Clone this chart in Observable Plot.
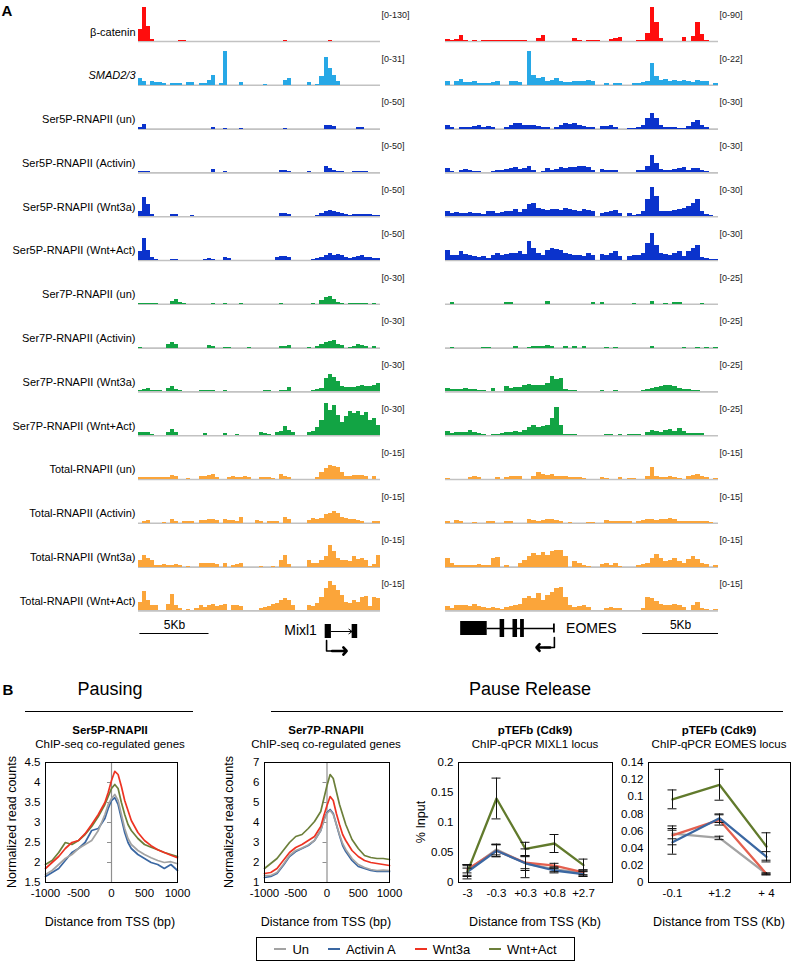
<!DOCTYPE html>
<html><head><meta charset="utf-8">
<script src="https://cdn.jsdelivr.net/npm/d3@7"></script>
<script src="https://cdn.jsdelivr.net/npm/@observablehq/plot@0.6"></script>
<style>
body{margin:0;background:#fff;font-family:"Liberation Sans",Arial,Helvetica,sans-serif;color:#000;}
#root{position:relative;width:800px;height:971px;overflow:hidden;background:#fff;}
.abs{position:absolute;}
.lbl{position:absolute;transform:translate(-50%,-50%);white-space:nowrap;line-height:1;}
svg{display:block;}
</style></head><body><div id="root"></div>
<script>
const FONT = '"Liberation Sans", Arial, Helvetica, sans-serif';

// ---------------- Panel A: genome browser tracks ----------------
const trackNames = ["β-catenin","SMAD2/3","Ser5P-RNAPII (un)","Ser5P-RNAPII (Activin)","Ser5P-RNAPII (Wnt3a)","Ser5P-RNAPII (Wnt+Act)","Ser7P-RNAPII (un)","Ser7P-RNAPII (Activin)","Ser7P-RNAPII (Wnt3a)","Ser7P-RNAPII (Wnt+Act)","Total-RNAPII (un)","Total-RNAPII (Activin)","Total-RNAPII (Wnt3a)","Total-RNAPII (Wnt+Act)"];
const trackColors = ["#ff0d0d","#27a8e6","#0b33cc","#0b33cc","#0b33cc","#0b33cc","#12a444","#12a444","#12a444","#12a444","#fba53a","#fba53a","#fba53a","#fba53a"];
const mixl1Ranges = ["[0-130]","[0-31]","[0-50]","[0-50]","[0-50]","[0-50]","[0-30]","[0-30]","[0-30]","[0-30]","[0-15]","[0-15]","[0-15]","[0-15]"];
const eomesRanges = ["[0-90]","[0-22]","[0-30]","[0-30]","[0-30]","[0-30]","[0-25]","[0-25]","[0-25]","[0-25]","[0-15]","[0-15]","[0-15]","[0-15]"];

// signal per 60 bins, as % of each track's data range
const mixl1_bcat = [35,100,45,5,0,0,0,0,0,0, 3,3,0,0,0,0,0,0,0,0, 0,0,0,0,0,0,0,0,0,0, 0,0,0,0,0,0,3,0,0,0, 0,0,0,0,0,0,0,3,0,0, 0,0,0,0,0,0,0,0,0,0];
const mixl1_smad = [20,10,0,12,8,8,5,0,6,6, 6,0,7,7,0,5,5,15,28,0, 5,100,0,0,0,7,0,0,0,0, 0,3,0,0,0,0,15,20,0,0, 0,0,8,0,3,25,83,50,30,10, 0,0,0,0,0,0,0,0,0,0];
const mixl1_s5_un = [4,13,0,0,0,0,0,0,0,0, 0,0,0,0,0,0,0,0,4,0, 0,3,0,0,0,3,0,0,0,0, 0,0,0,0,0,0,3,0,0,0, 0,0,0,0,0,0,10,12,8,0, 0,0,0,0,4,4,0,0,0,0];
const mixl1_s5_act = [4,4,4,0,0,0,0,0,0,2, 0,0,0,0,0,0,0,0,9,0, 0,4,0,0,0,2,0,0,0,0, 0,0,0,0,0,6,8,5,0,0, 0,0,4,0,0,0,20,12,8,4, 3,0,0,3,3,3,3,0,0,0];
const mixl1_s5_wnt = [15,55,35,5,0,0,0,0,5,5, 0,0,0,3,0,0,0,0,0,0, 0,2,0,0,0,0,0,0,0,0, 0,0,0,0,0,8,10,6,0,0, 0,0,0,0,4,8,15,18,14,12, 8,5,4,5,6,7,6,5,4,3];
const mixl1_s5_wa = [25,66,30,8,3,0,0,0,4,4, 0,0,0,0,0,0,3,6,4,0, 0,10,5,0,0,0,0,0,0,0, 0,0,0,0,8,12,13,8,0,0, 0,0,0,4,5,8,14,20,16,18, 14,10,6,10,12,14,10,8,6,6];
const mixl1_s7_un = [3,3,3,3,3,0,0,0,8,14, 5,2,0,0,0,0,0,0,3,0, 0,3,0,0,0,2,0,0,0,0, 0,0,0,0,0,3,0,0,0,0, 0,0,0,3,0,10,20,22,15,4, 2,0,3,3,3,3,3,0,3,0];
const mixl1_s7_act = [3,0,0,0,0,0,0,10,17,12, 0,0,0,0,0,0,0,8,5,0, 0,3,3,0,0,0,0,3,0,0, 0,0,0,0,0,6,5,8,0,0, 0,0,3,0,5,10,15,18,22,12, 8,0,3,6,10,8,6,0,6,0];
const mixl1_s7_wnt = [5,8,10,3,3,3,0,10,16,6, 3,0,0,0,0,4,4,5,3,0, 0,4,0,0,0,2,0,0,0,0, 0,3,3,0,0,5,5,12,0,0, 0,0,0,5,8,10,40,50,42,30, 15,12,14,14,16,18,15,16,18,25];
const mixl1_s7_wa = [10,8,8,4,0,0,0,8,17,10, 0,0,0,0,0,0,6,0,0,0, 0,6,0,0,3,0,0,0,0,0, 8,6,4,0,8,12,26,14,8,0, 0,0,10,12,25,45,95,75,88,60, 40,55,70,65,72,60,68,45,52,30];
const mixl1_tot_un = [5,6,7,6,5,6,5,6,12,8, 0,0,3,0,0,8,10,12,15,5, 0,0,6,8,5,6,10,6,0,0, 6,5,6,4,0,15,10,5,0,0, 0,0,0,0,5,20,32,40,38,35, 20,8,10,12,12,13,8,0,10,0];
const mixl1_tot_act = [0,6,8,0,0,0,3,0,10,6, 0,5,5,6,0,8,9,10,12,8, 0,10,8,8,5,16,0,0,0,8, 5,0,5,6,6,0,18,12,0,0, 0,0,8,14,12,15,25,30,36,28, 18,14,12,10,8,5,0,0,5,6];
const mixl1_tot_wnt = [20,35,25,20,5,6,8,6,5,8, 4,0,3,0,0,10,12,12,12,8, 0,12,0,6,8,12,0,0,0,0, 3,0,0,3,0,20,35,8,0,0, 0,0,20,10,12,20,30,63,45,25, 18,20,15,30,22,25,20,3,8,35];
const mixl1_tot_wa = [25,57,30,15,15,0,0,20,47,15, 8,0,3,0,8,15,10,15,18,12, 15,20,0,15,15,12,0,0,0,0, 8,10,12,18,22,30,35,30,15,0, 0,0,15,12,22,40,65,85,75,60, 45,25,22,30,25,38,42,12,40,35];

const eomes_bcat = [5,4,5,18,2,0,3,0,2,2, 2,2,2,2,2,2,2,2,0,0, 8,18,0,0,0,0,0,0,10,3, 0,3,3,3,0,0,6,8,12,0, 0,0,3,3,25,100,55,10,0,0, 0,0,12,0,15,55,20,2,0,0];
const eomes_smad = [10,0,10,18,8,8,10,6,6,5, 8,10,0,0,10,12,8,0,100,30, 20,22,12,15,20,10,8,8,10,12, 12,15,12,0,0,5,0,6,6,0, 0,5,5,8,10,65,25,15,18,12, 15,10,15,12,8,15,12,10,0,5];
const eomes_s5_un = [12,5,0,5,6,6,8,10,5,8, 5,0,0,6,10,15,16,10,12,10, 8,6,5,0,6,12,15,14,15,12, 8,6,5,0,8,8,10,6,0,0, 3,3,6,10,30,45,30,10,6,5, 5,3,3,8,20,26,10,5,0,0];
const eomes_s5_act = [12,5,0,8,10,6,5,4,0,0, 5,6,8,10,12,15,10,12,20,8, 0,5,12,8,10,15,14,15,16,18, 20,15,8,0,10,8,8,6,0,0, 0,0,8,6,20,50,28,10,8,8, 10,12,15,8,12,14,8,4,0,0];
const eomes_s5_wnt = [15,10,12,10,10,12,10,8,6,14, 16,10,12,14,15,20,12,20,35,40, 25,22,18,20,22,18,25,20,18,16, 20,18,15,0,10,12,14,18,10,0, 10,4,6,15,50,85,60,15,15,16, 18,20,25,30,40,52,15,5,3,0];
const eomes_s5_wa = [30,15,15,25,18,15,12,10,12,5, 15,20,15,18,20,22,25,18,55,35, 22,15,30,35,32,30,20,18,15,14, 12,20,15,0,18,15,20,25,12,0, 12,14,15,20,50,78,45,20,18,15, 20,25,12,25,35,45,10,5,3,3];
const eomes_s7_un = [0,4,0,0,0,0,0,0,0,0, 0,0,0,5,5,0,0,0,0,0, 0,0,8,0,0,0,0,0,0,0, 0,0,4,0,4,0,0,0,0,0, 0,3,0,0,0,7,0,0,3,0, 6,5,0,0,0,0,3,0,0,0];
const eomes_s7_act = [0,3,0,0,0,0,0,0,3,3, 0,0,0,0,0,4,0,0,3,4, 4,5,8,6,0,0,4,0,4,0, 4,0,0,0,0,3,0,3,0,0, 0,0,0,0,0,4,0,0,0,0, 0,0,3,0,0,3,0,3,0,3];
const eomes_s7_wnt = [10,8,6,8,10,6,6,5,4,0, 10,0,0,15,10,12,14,20,22,18, 18,20,25,45,35,40,6,5,4,0, 0,0,0,0,3,0,0,3,0,0, 0,0,0,5,8,10,12,15,18,20, 15,10,8,6,5,5,0,0,0,0];
const eomes_s7_wa = [12,6,8,10,8,15,8,6,4,0, 4,3,6,8,10,12,8,15,25,30, 25,28,30,50,82,30,4,3,3,2, 0,0,0,0,0,3,3,0,3,0, 3,3,4,0,10,15,12,10,15,18, 12,22,12,6,5,6,5,0,0,0];
const eomes_tot_un = [4,0,0,0,0,6,8,5,0,0, 0,5,0,6,10,10,8,0,0,10, 20,15,12,15,10,10,8,6,5,5, 4,0,0,0,5,4,0,0,6,0, 4,4,0,0,8,35,8,5,6,8, 5,4,0,8,12,15,10,6,0,4];
const eomes_tot_act = [4,0,8,5,0,0,3,0,0,5, 4,0,0,5,6,0,0,0,10,8, 6,8,10,12,8,5,0,3,0,0, 0,3,3,0,0,8,5,5,4,4, 5,0,6,8,10,12,8,10,12,13, 10,6,4,6,5,4,4,4,3,0];
const eomes_tot_wnt = [25,10,5,4,6,6,5,8,6,4, 25,28,0,5,0,0,10,20,30,40, 35,42,35,45,50,48,30,0,15,10, 6,3,0,0,8,10,5,10,3,0, 0,0,4,8,12,25,38,25,15,18, 25,15,12,22,30,22,12,8,0,5];
const eomes_tot_wa = [12,8,15,15,15,12,18,12,10,8, 10,8,5,10,12,15,18,35,42,35, 50,30,45,55,65,70,40,15,10,12, 15,10,0,0,0,8,10,8,6,0, 0,0,0,8,40,35,28,20,15,15, 18,15,10,0,15,25,8,4,0,4];

const mixl1Signals = [mixl1_bcat,mixl1_smad,mixl1_s5_un,mixl1_s5_act,mixl1_s5_wnt,mixl1_s5_wa,mixl1_s7_un,mixl1_s7_act,mixl1_s7_wnt,mixl1_s7_wa,mixl1_tot_un,mixl1_tot_act,mixl1_tot_wnt,mixl1_tot_wa];
const eomesSignals = [eomes_bcat,eomes_smad,eomes_s5_un,eomes_s5_act,eomes_s5_wnt,eomes_s5_wa,eomes_s7_un,eomes_s7_act,eomes_s7_wnt,eomes_s7_wa,eomes_tot_un,eomes_tot_act,eomes_tot_wnt,eomes_tot_wa];

// gene annotations (kb from locus start), lanes in annotation-row units
const mixl1ScaleBar = [{start:0.1, end:5.1, lane:21, label:"5Kb"}];
const eomesScaleBar = [{start:13.0, end:18.0, lane:21, label:"5Kb"}];
const mixl1Exons = [{start:13.5, end:13.95, top:12, bottom:26},{start:15.45, end:15.85, top:12, bottom:26}];
const mixl1Introns = [{start:13.95, end:15.45, lane:19}];
const mixl1Tss = [{x:13.6, y:28},{x:13.6, y:38.5},{x:14.4, y:38.5}];
const mixl1TssHead = [{x1:14.0, x2:15.05, y:38.5}];
const eomesExons = [{start:1.0,end:2.75,top:9,bottom:23},{start:3.6,end:3.9,top:7,bottom:25},{start:4.45,end:4.75,top:7,bottom:25},{start:4.95,end:5.2,top:7,bottom:25},{start:7.12,end:7.24,top:11.5,bottom:20.5}];
const eomesIntrons = [{start:2.75, end:7.12, lane:16}];
const eomesTss = [{x:7.18, y:25},{x:7.18, y:35},{x:6.5, y:35}];
const eomesTssHead = [{x1:6.9, x2:6.0, y:35}];

// ---------------- Panel B data ----------------
const conditions = ["Un","Activin A","Wnt3a","Wnt+Act"];
const condColors = ["#a3a3a3","#3a67a2","#ee3322","#6c7f3a"];
const qpcrColors = ["#a3a3a3","#3a67a2","#e4604f","#617a2c"];

const profileX = [-1000,-900,-800,-700,-600,-500,-400,-300,-200,-100,-50,0,50,100,150,200,250,300,400,500,600,700,800,900,1000];
const ser5Un  = [1.7,1.8,1.95,2.1,2.2,2.35,2.45,2.55,2.8,3.2,3.45,3.6,3.7,3.55,3.2,2.85,2.6,2.45,2.3,2.2,2.12,2.05,2.0,2.02,1.97];
const ser5Act = [1.65,1.75,1.85,2.05,2.25,2.35,2.5,2.8,2.85,3.1,3.35,3.55,3.62,3.45,3.1,2.75,2.5,2.35,2.2,2.1,2.0,1.95,1.85,1.95,1.8];
const ser5Wnt = [1.85,2.0,2.15,2.35,2.5,2.55,2.72,2.95,3.2,3.5,3.75,4.05,4.28,4.2,3.9,3.55,3.3,3.05,2.75,2.55,2.42,2.32,2.25,2.18,2.12];
const ser5WA  = [1.95,2.05,2.25,2.5,2.45,2.55,2.7,2.9,3.15,3.45,3.65,3.85,3.95,3.85,3.5,3.2,2.95,2.8,2.6,2.45,2.38,2.32,2.25,2.2,2.15];
const ser7Un  = [1.35,1.35,1.5,1.9,2.35,2.6,2.72,2.88,3.1,3.6,4.1,4.45,4.6,4.4,3.9,3.4,2.95,2.65,2.2,1.9,1.75,1.65,1.6,1.62,1.6];
const ser7Act = [1.25,1.3,1.45,1.85,2.3,2.55,2.7,2.85,3.1,3.6,4.15,4.5,4.65,4.45,3.9,3.35,2.85,2.55,2.1,1.8,1.7,1.6,1.55,1.55,1.55];
const ser7Wnt = [1.45,1.5,1.7,2.1,2.5,2.75,2.9,3.1,3.3,3.8,4.35,4.85,5.3,5.1,4.45,3.9,3.4,3.1,2.6,2.3,2.1,2.0,1.95,1.9,1.85];
const ser7WA  = [1.7,1.95,2.2,2.6,3.0,3.3,3.4,3.7,4.05,4.55,5.2,5.85,6.4,6.2,5.55,4.9,4.4,3.9,3.15,2.7,2.35,2.25,2.2,2.2,2.15];

const mixl1Pos = ["-3","-0.3","+0.3","+0.8","+2.7"];
const mixl1Un  = [0.02,0.055,0.032,0.022,0.016];
const mixl1Act = [0.018,0.053,0.032,0.02,0.014];
const mixl1Wnt = [0.022,0.053,0.033,0.028,0.017];
const mixl1WA  = [0.018,0.14,0.056,0.065,0.029];
const mixl1UnErr  = [0.01,0.009,0.012,0.004,0.005];
const mixl1ActErr = [0.006,0.01,0.024,0.004,0.004];
const mixl1WntErr = [0.006,0.01,0.01,0.004,0.004];
const mixl1WAErr  = [0.012,0.034,0.011,0.015,0.01];

const eomesPos = ["-0.1","+1.2","+ 4"];
const eomesUn  = [0.057,0.052,0.01];
const eomesAct = [0.047,0.075,0.03];
const eomesWnt = [0.055,0.073,0.01];
const eomesWA  = [0.097,0.114,0.042];
const eomesUnErr  = [0.006,0.002,0.001];
const eomesActErr = [0.014,0.005,0.006];
const eomesWntErr = [0.011,0.006,0.001];
const eomesWAErr  = [0.011,0.018,0.016];

// ---------------- helpers ----------------
const root = document.getElementById("root");
function place(node, left, top) {
  const d = document.createElement("div");
  d.className = "abs"; d.style.left = left + "px"; d.style.top = top + "px";
  d.appendChild(node); root.appendChild(d); return d;
}
function label(text, cx, cy, css) {
  const d = document.createElement("div");
  d.className = "lbl"; d.textContent = text;
  d.style.left = cx + "px"; d.style.top = cy + "px";
  if (css) d.style.cssText += css;
  root.appendChild(d); return d;
}
function hline(x1, x2, y) {
  const d = document.createElement("div");
  d.className = "abs";
  d.style.cssText += `left:${x1}px;top:${y}px;width:${x2 - x1}px;height:0;border-top:1px solid #000;`;
  root.appendChild(d);
}

function trackPlot(signals, ranges, {left, width, ml, mr, names}) {
  const rows = [];
  signals.forEach((arr, t) => arr.forEach((v, i) => rows.push({track: trackNames[t], bin: i, v, color: trackColors[t]})));
  const meta = trackNames.map((n, t) => ({track: n, range: ranges[t]}));
  const marks = [
    Plot.ruleY(meta, {fy: "track", y: () => 0, stroke: "#c2c2c2", strokeWidth: 1.6}),
    Plot.rect(rows, {fy: "track", x1: "bin", x2: d => d.bin + 1, y1: () => 0, y2: "v", fill: "color", shapeRendering: "crispEdges"}),
    Plot.text(meta, {fy: "track", text: "range", frameAnchor: "top-right", textAnchor: "start", dx: 1, dy: 4, fontSize: 9, fill: "#222"})
  ];
  if (names) {
    marks.push(Plot.text(meta.filter(d => d.track !== "SMAD2/3"), {fy: "track", text: "track", frameAnchor: "bottom-left", textAnchor: "end", dx: -3, dy: -6, fontSize: 11}));
    marks.push(Plot.text(meta.filter(d => d.track === "SMAD2/3"), {fy: "track", text: "track", frameAnchor: "bottom-left", textAnchor: "end", dx: -3, dy: -6, fontSize: 11, fontStyle: "italic"}));
  }
  // band padding 0.2237 between tracks: step 43.8px, track height 34px
  const svg = Plot.plot({
    width, height: 615.4, marginLeft: ml, marginRight: mr, marginTop: 7, marginBottom: 5,
    style: {fontFamily: FONT, fontSize: "11px", background: "transparent", color: "#000", overflow: "visible"},
    color: {type: "identity"},
    x: {domain: [0, 60], axis: null},
    y: {domain: [0, 100], axis: null},
    fy: {domain: trackNames, axis: null, padding: 0.2237, round: false},
    marks
  });
  place(svg, left, 0);
}

function genePlot({left, width, ml, mr, domain, scaleBar, exons, introns, tss, tssHead, name, nameX, nameLane, nameAnchor, introArrow}) {
  const marks = [
    Plot.ruleY(scaleBar, {x1: "start", x2: "end", y: "lane", stroke: "#000", strokeWidth: 1}),
    Plot.text(scaleBar, {x: d => (d.start + d.end) / 2, y: d => d.lane - 8, text: "label", fontSize: 12}),
    introArrow
      ? Plot.arrow(introns, {x1: "start", x2: "end", y1: "lane", y2: "lane", stroke: "#000", strokeWidth: 1, headLength: 6, headAngle: 70})
      : Plot.ruleY(introns, {x1: "start", x2: "end", y: "lane", stroke: "#000", strokeWidth: 1.3}),
    Plot.rect(exons, {x1: "start", x2: "end", y1: "top", y2: "bottom", fill: "#000"}),
    Plot.line(tss, {x: "x", y: "y", stroke: "#000", strokeWidth: 1.6}),
    Plot.arrow(tssHead, {x1: "x1", x2: "x2", y1: "y", y2: "y", stroke: "#000", strokeWidth: 2.6, headLength: 8, headAngle: 95}),
    Plot.text([name], {x: () => nameX, y: () => nameLane, text: d => d, textAnchor: nameAnchor, fontSize: 14})
  ];
  const svg = Plot.plot({
    width, height: 55, marginLeft: ml, marginRight: mr, marginTop: 0, marginBottom: 0,
    style: {fontFamily: FONT, fontSize: "12px", background: "transparent", color: "#000", overflow: "visible"},
    x: {domain, axis: null},
    y: {domain: [0, 55], reverse: true, axis: null},
    marks
  });
  place(svg, left, 612);
}

const B_TOP = 752, B_H = 172, B_MT = 10, B_MB = 42; // frame 762..882

function profilePlot({left, width, ml, mr, series, yDomain, yTicks}) {
  const rows = [];
  series.forEach((vals, k) => vals.forEach((v, i) => rows.push({x: profileX[i], v, cond: conditions[k], color: condColors[k]})));
  const order = ["Activin A", "Un", "Wnt+Act", "Wnt3a"];
  rows.sort((a, b) => order.indexOf(a.cond) - order.indexOf(b.cond));
  const svg = Plot.plot({
    width, height: B_H, marginLeft: ml, marginRight: mr, marginTop: B_MT, marginBottom: B_MB,
    style: {fontFamily: FONT, fontSize: "11.5px", background: "transparent", color: "#000", overflow: "visible"},
    color: {type: "identity"},
    x: {domain: [-1000, 1000]},
    y: {domain: yDomain},
    marks: [
      Plot.ruleX([0], {stroke: "#8f8f8f", strokeWidth: 1.2}),
      Plot.ruleY(yTicks, {y: d => d, x1: () => 0, x2: () => 0, insetLeft: -4, insetRight: 0, stroke: "#8f8f8f", strokeWidth: 1}),
      Plot.line(rows, {x: "x", y: "v", z: "cond", stroke: "color", strokeWidth: 1.7}),
      Plot.frame({stroke: "#000", strokeWidth: 1}),
      Plot.axisX({ticks: [-1000, -500, 0, 500, 1000], tickFormat: d => String(d), tickSize: 0, tickPadding: 6, label: null}),
      Plot.axisY({ticks: yTicks, tickFormat: d => String(d), tickSize: 0, tickPadding: 5, label: null})
    ]
  });
  place(svg, left, B_TOP);
}

function qpcrPlot({left, width, ml, mr, cats, series, errs, xScale, yDomain, yTicks}) {
  const rows = [];
  series.forEach((vals, k) => vals.forEach((v, i) => rows.push({pos: cats[i], v, lo: v - errs[k][i], hi: v + errs[k][i], cond: conditions[k], color: qpcrColors[k]})));
  const order = ["Un", "Wnt3a", "Activin A", "Wnt+Act"];
  rows.sort((a, b) => order.indexOf(a.cond) - order.indexOf(b.cond));
  const svg = Plot.plot({
    width, height: B_H, marginLeft: ml, marginRight: mr, marginTop: B_MT, marginBottom: B_MB,
    style: {fontFamily: FONT, fontSize: "11.5px", background: "transparent", color: "#000", overflow: "visible"},
    color: {type: "identity"},
    x: {type: "point", domain: cats, ...xScale},
    y: {domain: yDomain},
    marks: [
      Plot.line(rows, {x: "pos", y: "v", z: "cond", stroke: "color", strokeWidth: 2.3}),
      Plot.ruleX(rows, {x: "pos", y1: "lo", y2: "hi", stroke: "#111", strokeWidth: 1}),
      Plot.ruleY(rows, {x1: "pos", x2: "pos", y: "hi", insetLeft: -4.5, insetRight: -4.5, stroke: "#111", strokeWidth: 1}),
      Plot.ruleY(rows, {x1: "pos", x2: "pos", y: "lo", insetLeft: -4.5, insetRight: -4.5, stroke: "#111", strokeWidth: 1}),
      Plot.frame({stroke: "#000", strokeWidth: 1}),
      Plot.axisX({tickSize: 0, tickPadding: 6, label: null}),
      Plot.axisY({ticks: yTicks, tickFormat: d => String(d), tickSize: 0, tickPadding: 5, label: null})
    ]
  });
  place(svg, left, B_TOP);
}

// ---------------- build panel A ----------------
label("A", 7, 10, "font-weight:bold;font-size:15px;");
trackPlot(mixl1Signals, mixl1Ranges, {left: 0, width: 420, ml: 138, mr: 40, names: true});
trackPlot(eomesSignals, eomesRanges, {left: 440, width: 360, ml: 5, mr: 82, names: false});
genePlot({left: 0, width: 420, ml: 138, mr: 40, domain: [0, 17.5], scaleBar: mixl1ScaleBar, exons: mixl1Exons, introns: mixl1Introns, tss: mixl1Tss, tssHead: mixl1TssHead, name: "Mixl1", nameX: 12.9, nameLane: 18, nameAnchor: "end", introArrow: true});
genePlot({left: 440, width: 360, ml: 5, mr: 82, domain: [0, 18], scaleBar: eomesScaleBar, exons: eomesExons, introns: eomesIntrons, tss: eomesTss, tssHead: eomesTssHead, name: "EOMES", nameX: 7.95, nameLane: 16, nameAnchor: "start", introArrow: false});

// ---------------- build panel B ----------------
label("B", 8, 689, "font-weight:bold;font-size:15px;");
label("Pausing", 110, 689, "font-size:18px;");
label("Pause Release", 530, 689, "font-size:18px;");
hline(25, 193, 711);
hline(271, 783, 711);

const panelCenters = [110, 326, 535, 719];
const titles = ["Ser5P-RNAPII", "Ser7P-RNAPII", "pTEFb (Cdk9)", "pTEFb (Cdk9)"];
const subtitles = ["ChIP-seq co-regulated genes", "ChIP-seq co-regulated genes", "ChIP-qPCR MIXL1 locus", "ChIP-qPCR EOMES locus"];
const xLabels = ["Distance from TSS (bp)", "Distance from TSS (bp)", "Distance from TSS (Kb)", "Distance from TSS (Kb)"];
panelCenters.forEach((cx, i) => {
  label(titles[i], cx, 731, "font-weight:bold;font-size:11.5px;");
  label(subtitles[i], cx, 745, "font-size:11.5px;");
  label(xLabels[i], cx, 922, "font-size:12.5px;");
});
label("Normalized read counts", 12, 822, "font-size:12.5px;transform:translate(-50%,-50%) rotate(-90deg);");
label("Normalized read counts", 229, 822, "font-size:12.5px;transform:translate(-50%,-50%) rotate(-90deg);");
label("% Input", 421, 822, "font-size:12.5px;transform:translate(-50%,-50%) rotate(-90deg);");

profilePlot({left: 0, width: 200, ml: 45, mr: 23, series: [ser5Un, ser5Act, ser5Wnt, ser5WA], yDomain: [1.5, 4.5], yTicks: [1.5, 2, 2.5, 3, 3.5, 4, 4.5]});
profilePlot({left: 210, width: 200, ml: 54, mr: 21, series: [ser7Un, ser7Act, ser7Wnt, ser7WA], yDomain: [1, 7], yTicks: [1, 2, 3, 4, 5, 6, 7]});
qpcrPlot({left: 400, width: 230, ml: 58, mr: 18, cats: mixl1Pos, series: [mixl1Un, mixl1Act, mixl1Wnt, mixl1WA], errs: [mixl1UnErr, mixl1ActErr, mixl1WntErr, mixl1WAErr], xScale: {padding: 0, insetLeft: 8, insetRight: 28}, yDomain: [0, 0.2], yTicks: [0, 0.05, 0.1, 0.15, 0.2]});
qpcrPlot({left: 600, width: 200, ml: 48, mr: 10, cats: eomesPos, series: [eomesUn, eomesAct, eomesWnt, eomesWA], errs: [eomesUnErr, eomesActErr, eomesWntErr, eomesWAErr], xScale: {padding: 0.5}, yDomain: [0, 0.14], yTicks: [0, 0.02, 0.04, 0.06, 0.08, 0.1, 0.12, 0.14]});

// legend
const legend = document.createElement("div");
legend.className = "abs";
legend.style.cssText += "left:256px;top:937px;width:319px;height:24px;border:1px solid #000;box-sizing:border-box;display:flex;align-items:center;justify-content:space-around;font-size:13px;padding:0 8px;";
conditions.forEach((c, i) => {
  const item = document.createElement("span");
  item.style.cssText = "display:flex;align-items:center;gap:6px;";
  const sw = document.createElement("span");
  sw.style.cssText = `display:inline-block;width:12px;height:0;border-top:2px solid ${condColors[i]};`;
  item.append(sw, document.createTextNode(c));
  legend.append(item);
});
root.appendChild(legend);
</script></body></html>
